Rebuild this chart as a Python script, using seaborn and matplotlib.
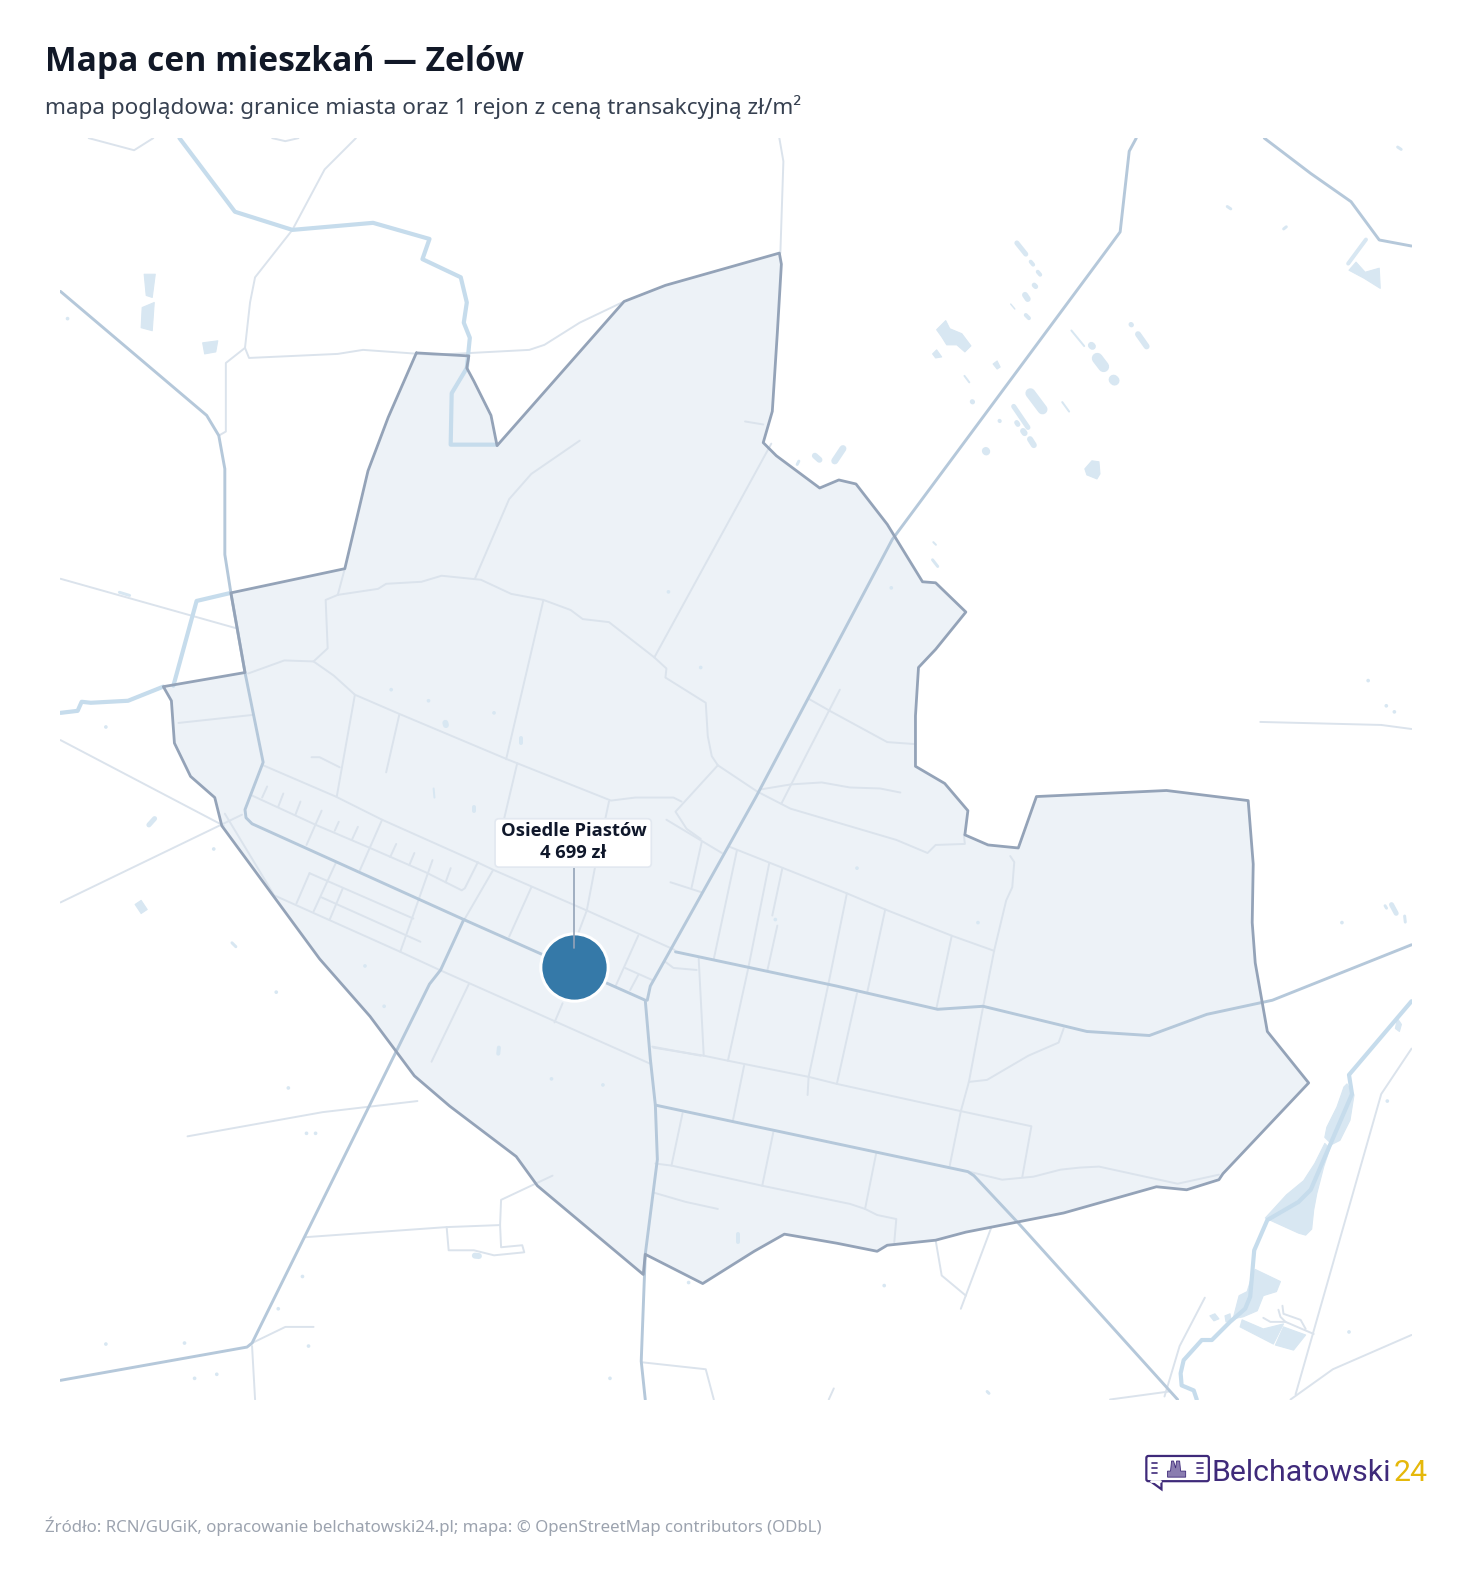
import matplotlib
matplotlib.use('Agg')
import matplotlib.pyplot as plt
import matplotlib.font_manager as fm
import pandas as pd
import seaborn as sns
from matplotlib.patches import FancyBboxPatch, Polygon

# all map geometry is in one plane
CITY_BOUNDARY = [(413, 350), (465, 353), (463, 365), (470, 378), (487, 412), (493, 442), (619, 299), (660, 283), (773, 251),
                 (775, 262), (771, 330), (766, 408), (757, 439), (770, 452), (813, 484), (832, 476), (849, 480), (880, 520),
                 (915, 577), (928, 578), (958, 607), (928, 644), (911, 662), (908, 710), (908, 760), (937, 777), (960, 804),
                 (957, 828), (980, 838), (1010, 841), (1028, 790), (1157, 784), (1238, 794), (1243, 857), (1242, 915),
                 (1245, 955), (1257, 1023), (1298, 1074), (1213, 1164), (1209, 1170), (1177, 1180), (1147, 1177),
                 (1055, 1203), (958, 1222), (928, 1230), (880, 1235), (870, 1241), (830, 1233), (778, 1224), (748, 1241),
                 (697, 1273), (640, 1244), (638, 1264), (533, 1176), (512, 1147), (446, 1097), (411, 1067), (367, 1008),
                 (317, 951), (220, 819), (213, 791), (189, 770), (173, 737), (170, 695), (162, 681), (243, 667), (229, 588),
                 (342, 564), (365, 467), (385, 414), (413, 350)]

MAJOR_ROADS = [
    [(60, 289), (205, 412), (217, 432), (223, 465), (223, 550), (229, 588), (243, 667), (261, 756), (243, 803), (244, 811),
     (250, 817), (460, 912), (640, 992), (645, 1050), (650, 1096), (960, 1162), (966, 1166), (1010, 1213), (1168, 1388)],
    [(1127, 137), (1120, 150), (1111, 230), (1100, 245), (885, 535), (750, 790), (645, 978), (642, 992)],
    [(670, 944), (830, 978), (930, 1001), (975, 998), (1078, 1023), (1140, 1027), (1197, 1006), (1262, 992), (1400, 937)],
    [(650, 1096), (652, 1150), (640, 1244), (636, 1350), (640, 1388)],
    [(60, 1369), (245, 1336), (250, 1332), (426, 976), (437, 962), (460, 912)],
    [(1254, 137), (1300, 172), (1340, 200), (1368, 238), (1400, 244)],
]

MINOR_ROADS = [
    [(335, 590), (375, 584), (383, 579), (418, 577), (438, 571), (477, 575), (507, 589), (539, 595), (566, 605), (578, 614),
     (604, 617), (649, 652), (661, 663), (660, 672), (700, 697), (702, 730), (706, 750), (712, 759), (751, 785), (784, 802),
     (889, 833), (920, 846), (928, 838), (957, 837), (956, 828)],
    [(335, 590), (323, 595), (325, 643), (311, 656), (282, 655), (246, 668)],
    [(311, 656), (331, 670), (352, 689), (396, 708), (503, 753), (606, 794), (630, 791), (668, 791), (676, 795)],
    [(712, 759), (670, 805), (681, 822), (695, 832)],
    [(661, 813), (716, 846)],
    [(724, 840), (840, 886), (878, 902), (944, 928), (986, 943)],
    [(1002, 849), (1006, 855), (1004, 880), (998, 893), (986, 943), (975, 999), (961, 1073), (953, 1102), (942, 1156)],
    [(731, 843), (708, 951)],
    [(763, 856), (742, 961), (722, 1052)],
    [(776, 861), (766, 908)],
    [(771, 918), (761, 963)],
    [(840, 886), (821, 979), (802, 1068), (801, 1086)],
    [(878, 902), (860, 985)],
    [(850, 985), (830, 1075)],
    [(944, 928), (929, 999)],
    [(693, 951), (698, 1047)],
    [(696, 835), (686, 880)],
    [(665, 875), (696, 885)],
    [(660, 954), (668, 960), (691, 962)],
    [(648, 1039), (698, 1047), (722, 1052), (802, 1068), (830, 1075), (953, 1102), (1023, 1117), (1014, 1167)],
    [(738, 1057), (727, 1111)],
    [(677, 1104), (666, 1156)],
    [(767, 1123), (756, 1176)],
    [(869, 1144), (858, 1199)],
    [(650, 1154), (666, 1156), (756, 1176), (843, 1194), (858, 1199), (870, 1205), (889, 1209), (887, 1232)],
    [(649, 1183), (680, 1192), (712, 1199)],
    [(961, 1162), (994, 1170), (1025, 1167), (1052, 1160), (1071, 1158), (1090, 1157), (1168, 1174), (1209, 1165)],
    [(961, 1073), (979, 1071), (1020, 1047), (1050, 1034), (1055, 1020)],
    [(754, 783), (784, 778), (815, 776), (843, 781), (873, 782), (893, 786)],
    [(833, 684), (797, 754), (775, 797)],
    [(802, 693), (823, 705), (880, 736), (908, 738)],
    [(575, 437), (527, 470), (505, 495), (471, 574)],
    [(765, 440), (649, 652)],
    [(739, 418), (757, 421)],
    [(342, 564), (335, 590)],
    [(261, 759), (333, 790), (379, 813), (473, 855), (490, 863), (582, 903), (669, 942)],
    [(250, 789), (313, 818), (367, 841), (422, 865), (458, 883), (461, 881), (474, 855)],
    [(260, 791), (265, 780)],
    [(276, 800), (281, 787)],
    [(293, 808), (298, 795)],
    [(304, 838), (319, 804)],
    [(332, 824), (336, 815)],
    [(349, 833), (355, 820)],
    [(357, 863), (379, 813)],
    [(387, 850), (393, 837)],
    [(406, 858), (411, 846)],
    [(397, 944), (429, 853)],
    [(442, 875), (447, 861)],
    [(334, 790), (352, 689)],
    [(383, 766), (396, 709)],
    [(502, 753), (539, 595)],
    [(489, 863), (460, 913)],
    [(513, 757), (500, 812)],
    [(505, 929), (527, 880)],
    [(604, 795), (590, 861), (582, 903), (570, 935)],
    [(633, 928), (611, 977)],
    [(620, 960), (647, 972)],
    [(633, 967), (625, 982)],
    [(558, 995), (550, 1014)],
    [(465, 976), (428, 1053)],
    [(309, 751), (317, 751), (337, 761)],
    [(177, 717), (251, 709)],
    [(307, 866), (410, 911)],
    [(294, 896), (307, 866)],
    [(311, 904), (333, 856)],
    [(327, 912), (340, 881)],
    [(319, 890), (417, 934)],
    [(223, 807), (272, 888), (397, 944), (436, 962), (645, 1055)],
    [(647, 1038), (695, 1047)],
    [(240, 808), (60, 895)],
    [(60, 734), (222, 819)],
    [(60, 574), (234, 623)],
    [(88, 137), (133, 149), (152, 137)],
    [(270, 137), (283, 140), (296, 137)],
    [(353, 137), (322, 168), (290, 228), (253, 275), (248, 300), (243, 345), (224, 360), (224, 428), (217, 432)],
    [(243, 345), (247, 355), (335, 351), (360, 347), (430, 352), (525, 347), (540, 342), (575, 320), (619, 299)],
    [(773, 137), (777, 160), (774, 251)],
    [(1250, 716), (1370, 719), (1400, 723)],
    [(1400, 1040), (1370, 1085), (1285, 1383)],
    [(1400, 1324), (1322, 1358), (1280, 1388)],
    [(186, 1127), (320, 1103), (414, 1092)],
    [(303, 1227), (443, 1217), (496, 1215), (497, 1190), (548, 1166)],
    [(443, 1217), (445, 1240), (470, 1240), (490, 1245), (520, 1242), (518, 1235), (497, 1237), (496, 1215)],
    [(250, 1335), (253, 1388)],
    [(250, 1332), (283, 1316), (311, 1316)],
    [(636, 1351), (700, 1358), (708, 1388)],
    [(928, 1230), (934, 1265), (958, 1285)],
    [(983, 1218), (953, 1298)],
    [(1195, 1287), (1170, 1335), (1155, 1385)],
    [(1101, 1388), (1160, 1380)],
    [(827, 1377), (822, 1388)],
    [(1253, 1307), (1260, 1311), (1275, 1311), (1303, 1323)],
    [(1268, 1299), (1270, 1306), (1275, 1311)],
    [(1272, 1295), (1273, 1303), (1290, 1309), (1295, 1318)],
]

RIVERS = [
    [(178, 137), (233, 210), (290, 228), (370, 221), (426, 237), (419, 257), (457, 275), (463, 300), (460, 320), (466, 335),
     (463, 365), (448, 390), (447, 441), (493, 441)],
    [(60, 707), (77, 705), (81, 696), (90, 697), (127, 695), (162, 681)],
    [(172, 680), (195, 596), (229, 588)],
    [(1400, 993), (1338, 1066), (1341, 1085), (1300, 1180), (1288, 1192), (1257, 1210), (1244, 1240), (1240, 1286), (1235, 1298),
     (1220, 1311), (1202, 1329), (1192, 1329), (1174, 1349), (1171, 1362), (1172, 1374), (1184, 1379), (1187, 1388)],
]

LAKES = [
    [(1336, 1075), (1343, 1086), (1339, 1111), (1329, 1131), (1321, 1135), (1314, 1128), (1316, 1118), (1326, 1098), (1333, 1078)],
    [(1314, 1134), (1319, 1139), (1313, 1157), (1306, 1184), (1303, 1200), (1301, 1219), (1295, 1225), (1288, 1223), (1255, 1208),
     (1276, 1185), (1293, 1171), (1304, 1154)],
    [(1245, 1259), (1270, 1271), (1266, 1281), (1253, 1285), (1247, 1300), (1233, 1306), (1223, 1308), (1229, 1285), (1237, 1281), (1240, 1271)],
    [(1232, 1309), (1253, 1318), (1273, 1313), (1263, 1333), (1230, 1316)],
    [(1273, 1316), (1295, 1324), (1283, 1339), (1265, 1334)],
    [(1215, 1305), (1220, 1303), (1221, 1309), (1216, 1311)],
    [(1200, 1305), (1205, 1303), (1209, 1308), (1204, 1310)],
    [(1386, 1010), (1390, 1016), (1388, 1023), (1384, 1020)],
    [(929, 327), (938, 318), (942, 326), (954, 331), (963, 343), (957, 349), (949, 342), (939, 342), (934, 334)],
    [(925, 351), (929, 347), (934, 354), (928, 355)],
    [(985, 361), (989, 358), (992, 364), (989, 366)],
    [(1076, 465), (1083, 457), (1090, 458), (1091, 470), (1088, 475), (1083, 473), (1078, 471)],
    [(1338, 268), (1345, 260), (1354, 270), (1368, 266), (1369, 286), (1353, 276)],
    [(143, 272), (154, 272), (151, 295), (145, 293)],
    [(141, 305), (153, 300), (151, 328), (140, 325)],
    [(201, 340), (216, 338), (214, 349), (203, 351)],
    [(134, 897), (140, 893), (146, 902), (140, 906)],
]

# long narrow ponds: ends and width
POND_STRIPS = [
    [(1007, 239), (1019, 254), 5], [(1021, 258), (1026, 264), 4], [(1028, 268), (1033, 274), 4], [(1024, 281), (1029, 286), 5],
    [(1015, 290), (1021, 299), 6], [(1002, 301), (1007, 307), 1.5], [(1016, 311), (1022, 317), 4], [(1062, 327), (1076, 344), 2],
    [(1080, 340), (1086, 346), 7], [(1085, 351), (1098, 368), 11], [(1101, 373), (1109, 381), 10], [(1120, 320), (1124, 324), 5],
    [(1127, 329), (1139, 346), 6], [(956, 372), (962, 380), 2], [(963, 397), (966, 400), 5], [(1019, 386), (1037, 410), 10],
    [(1004, 401), (1021, 426), 5], [(1053, 398), (1061, 409), 2], [(990, 416), (993, 419), 4], [(1007, 417), (1011, 423), 5],
    [(1013, 425), (1018, 432), 6], [(1020, 433), (1027, 444), 6], [(976, 445), (980, 450), 8], [(1336, 263), (1356, 236), 4],
    [(806, 450), (815, 458), 6], [(826, 460), (838, 442), 7], [(790, 462), (793, 456), 3], [(1216, 204), (1222, 208), 3],
    [(1379, 895), (1386, 908), 5], [(1373, 897), (1376, 902), 3], [(1393, 907), (1394, 916), 3], [(146, 820), (155, 810), 5],
    [(229, 934), (235, 940), 3], [(117, 587), (130, 591), 3], [(924, 554), (931, 563), 3], [(925, 537), (929, 541), 2],
    [(1272, 228), (1277, 224), 3], [(1385, 145), (1391, 149), 3], [(441, 714), (443, 722), 6], [(517, 730), (517, 739), 4],
    [(470, 798), (470, 806), 4], [(430, 781), (431, 792), 2], [(495, 1037), (494, 1047), 4], [(732, 1222), (732, 1234), 4],
    [(978, 1379), (982, 1383), 3], [(468, 1245), (478, 1246), 6],
]

SMALL_X = [67, 547, 598, 286, 183, 105, 306, 193, 215, 300, 304, 313, 274, 362, 381, 212, 695, 884, 425, 388, 490, 850,
           769, 1357, 1375, 1383, 1376, 1338, 105, 605, 276, 683, 877, 1331, 970, 663]
SMALL_Y = [316, 1070, 1076, 1079, 1332, 1333, 1335, 1367, 1363, 1266, 1124, 1124, 984, 958, 998, 842, 662, 583, 695, 684, 707, 861,
           912, 675, 700, 706, 1092, 1321, 721, 1367, 1298, 1272, 1275, 915, 915, 587]

REGION_NAME = ['Osiedle Piastów']
REGION_PRICE = ['4 699 zł']
REGION_X = [569]
REGION_Y = [959]

TITLE = 'Mapa cen mieszkań — Zelów'
SUBTITLE = 'mapa poglądowa: granice miasta oraz 1 rejon z ceną transakcyjną zł/m²'
SOURCE = 'Źródło: RCN/GUGiK, opracowanie belchatowski24.pl; mapa: © OpenStreetMap contributors (ODbL)'

PLANE_W, PLANE_H = 1460, 1568
WATER = '#d8e7f2'


def lines_frame(lines):
    rows = []
    for i, line in enumerate(lines):
        for x, y in line:
            rows.append({'id': i, 'x': x, 'y': y})
    return pd.DataFrame(rows)


def draw_lines(ax, lines, color, width, zorder):
    sns.lineplot(data=lines_frame(lines), x='x', y='y', units='id', estimator=None, sort=False, color=color,
                 linewidth=width, ax=ax, legend=False, zorder=zorder, solid_joinstyle='round', solid_capstyle='round')


def draw_strip(ax, a, b, w):
    # pull the ends in so the round caps land where the pond ends
    dx, dy = b[0] - a[0], b[1] - a[1]
    length = (dx ** 2 + dy ** 2) ** 0.5
    t = min(0.45, 0.5 * w / length)
    xs = [a[0] + t * dx, b[0] - t * dx]
    ys = [a[1] + t * dy, b[1] - t * dy]
    sns.lineplot(x=xs, y=ys, sort=False, estimator=None, color=WATER, linewidth=w * 0.72, ax=ax, legend=False, zorder=2,
                 solid_capstyle='round')


def bold_family():
    # not every installed family ships a real bold face
    for name in ['Open Sans', 'Noto Sans', 'Lato', 'Roboto', 'Inter', 'Liberation Sans']:
        for f in fm.fontManager.ttflist:
            if f.name == name and f.style == 'normal' and f.weight in ('bold', 'semibold', 600, 700):
                return name
    return 'DejaVu Sans'


sns.set_theme(style='white')
plt.rcParams['font.family'] = ['Noto Sans', 'DejaVu Sans']
BOLD = bold_family()

fig = plt.figure(figsize=(14.72, 15.81), dpi=100)
fig.patch.set_facecolor('white')

ax = fig.add_axes([60 / PLANE_W, 1 - 1388 / PLANE_H, 1340 / PLANE_W, 1251 / PLANE_H])
ax.set_facecolor('white')

ax.add_patch(Polygon(CITY_BOUNDARY, closed=True, facecolor='#edf2f7', edgecolor='none', zorder=1))
for lake in LAKES:
    ax.add_patch(Polygon(lake, closed=True, facecolor=WATER, edgecolor=WATER, linewidth=0.8, joinstyle='round', zorder=2))
for a, b, w in POND_STRIPS:
    draw_strip(ax, a, b, w)
sns.scatterplot(x=SMALL_X, y=SMALL_Y, s=7, color=WATER, edgecolor='none', ax=ax, legend=False, zorder=2)

draw_lines(ax, MINOR_ROADS, '#dbe3ec', 1.4, 3)
draw_lines(ax, RIVERS, '#c6dcec', 3.0, 4)
draw_lines(ax, MAJOR_ROADS, '#b5c8da', 2.1, 5)
draw_lines(ax, [CITY_BOUNDARY], '#94a3b8', 2.0, 6)

sns.scatterplot(x=REGION_X, y=REGION_Y, s=2350, color='#3579a8', edgecolor='white', linewidth=2.2, ax=ax, legend=False, zorder=7)

# label with leader line
sns.lineplot(x=[REGION_X[0], REGION_X[0]], y=[860, 940], sort=False, estimator=None, color='#94a3b8', linewidth=1.2, ax=ax,
             legend=False, zorder=8)
ax.add_patch(FancyBboxPatch((491, 812), 155, 48, boxstyle='round,pad=0,rounding_size=4', facecolor='white', edgecolor='#e2e8f0',
                            linewidth=1.2, zorder=9))
ax.text(REGION_X[0], 824, REGION_NAME[0], ha='center', va='center', fontsize=13.2, fontweight='bold', family=[BOLD, 'DejaVu Sans'],
        color='#0f172a', zorder=10)
ax.text(REGION_X[0], 846, REGION_PRICE[0], ha='center', va='center', fontsize=13.2, fontweight='bold', family=[BOLD, 'DejaVu Sans'],
        color='#0f172a', zorder=10)

ax.set_xlim(60, 1400)
ax.set_ylim(1388, 137)
ax.set_xlabel('')
ax.set_ylabel('')
ax.axis('off')

# titles and logo sit on a plain overlay
top = fig.add_axes([0, 0, 1, 1])
top.set_xlim(0, PLANE_W)
top.set_ylim(PLANE_H, 0)
top.axis('off')
top.patch.set_alpha(0)

top.text(45, 70, TITLE, fontsize=24.2, fontweight='bold', family=[BOLD, 'DejaVu Sans'], color='#111827', va='baseline', ha='left')
top.text(45, 113, SUBTITLE, fontsize=16.23, color='#374151', va='baseline', ha='left')
top.text(45, 1519, SOURCE, fontsize=12.13, color='#9ca3af', va='baseline', ha='left')

PURPLE = '#3f2a7a'
top.add_patch(FancyBboxPatch((1137, 1444), 62, 25, boxstyle='round,pad=0,rounding_size=2', facecolor='white', edgecolor=PURPLE, linewidth=1.6))
top.add_patch(Polygon([(1141, 1469), (1152, 1477), (1152, 1469)], closed=False, facecolor='white', edgecolor=PURPLE, linewidth=1.6, zorder=3))
top.plot([1142, 1151], [1469, 1469], color='white', linewidth=2, zorder=4)
for yy in (1451, 1456, 1461):
    top.plot([1143, 1148], [yy, yy], color=PURPLE, linewidth=1.2)
    top.plot([1187, 1193], [yy, yy], color=PURPLE, linewidth=1.2)
top.add_patch(Polygon([(1158, 1465), (1176, 1465), (1176, 1459), (1171, 1459), (1170, 1449), (1167, 1449), (1166, 1456), (1164, 1449),
                       (1162, 1449), (1161, 1459), (1158, 1459)], closed=True, facecolor='#8a7db0', edgecolor=PURPLE, linewidth=0.6))

top.text(1202, 1469, 'Belchatowski', fontsize=21.8, family=['Roboto', 'DejaVu Sans'], color=PURPLE, va='baseline', ha='left')
top.text(1416, 1469, '24', fontsize=21.8, family=['Roboto', 'DejaVu Sans'], color='#e5b80b', va='baseline', ha='right')

fig.savefig('out.png', dpi=100, facecolor='white')
